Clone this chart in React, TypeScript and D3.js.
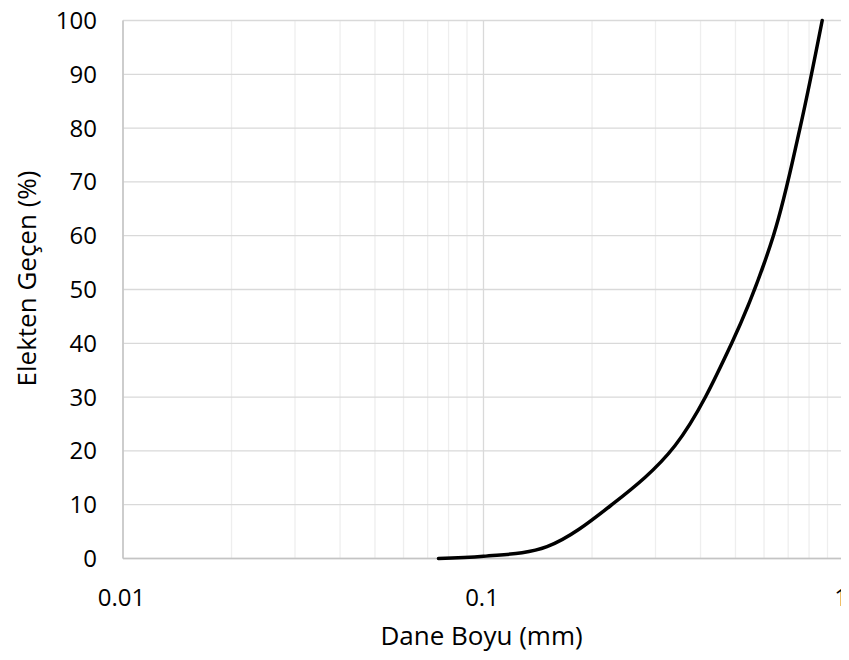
import React, { useEffect, useRef } from "react";
import * as d3 from "d3";

// grain size (mm) and percent passing
const grainSize = [0.075, 0.1, 0.15, 0.227, 0.34, 0.488, 0.637, 0.755, 0.87];
const passing = [0, 0.4, 2.2, 10, 21, 40, 60, 80, 100];
const xTicks = [0.01, 0.1, 1];
const xTickLabels = ["0.01", "0.1", "1"];
const yTicks = [0, 10, 20, 30, 40, 50, 60, 70, 80, 90, 100];

const width = 849;
const height = 660;
const font = "'Segoe UI', 'Open Sans', sans-serif";

const GradationChart = () => {
    const svgRef = useRef<SVGSVGElement>(null);

    useEffect(() => {
        const svg = d3.select(svgRef.current);
        svg.selectAll("*").remove();

        const margin = { top: 20.5, right: 5, bottom: 101.5, left: 123 };
        const x = d3.scaleLog().domain([0.01, 1]).range([margin.left, width - margin.right]);
        const y = d3.scaleLinear().domain([0, 100]).range([height - margin.bottom, margin.top]);

        // minor vertical gridlines (2..9 per decade)
        const minor: number[] = [];
        [0.01, 0.1].forEach((d) => {
            for (let k = 2; k <= 9; k++) minor.push(d * k);
        });
        svg.append("g")
            .selectAll("line")
            .data(minor)
            .enter()
            .append("line")
            .attr("x1", (d) => x(d))
            .attr("x2", (d) => x(d))
            .attr("y1", y(0))
            .attr("y2", y(100))
            .attr("stroke", "#eeeeee")
            .attr("stroke-width", 1.3);

        // major vertical gridlines
        svg.append("g")
            .selectAll("line")
            .data(xTicks)
            .enter()
            .append("line")
            .attr("x1", (d) => x(d))
            .attr("x2", (d) => x(d))
            .attr("y1", y(0))
            .attr("y2", y(100))
            .attr("stroke", "#d9d9d9")
            .attr("stroke-width", 1.3);

        // horizontal gridlines
        svg.append("g")
            .selectAll("line")
            .data(yTicks)
            .enter()
            .append("line")
            .attr("x1", x(0.01))
            .attr("x2", x(1))
            .attr("y1", (d) => y(d))
            .attr("y2", (d) => y(d))
            .attr("stroke", "#d9d9d9")
            .attr("stroke-width", 1.3);

        // axis lines
        svg.append("line")
            .attr("x1", x(0.01)).attr("x2", x(0.01))
            .attr("y1", y(0)).attr("y2", y(100))
            .attr("stroke", "#c4c4c4").attr("stroke-width", 1.5);
        svg.append("line")
            .attr("x1", x(0.01)).attr("x2", x(1))
            .attr("y1", y(0)).attr("y2", y(0))
            .attr("stroke", "#c4c4c4").attr("stroke-width", 1.5);

        // y tick labels
        svg.append("g")
            .selectAll("text")
            .data(yTicks)
            .enter()
            .append("text")
            .attr("x", 97)
            .attr("y", (d) => y(d))
            .attr("dy", "0.35em")
            .attr("text-anchor", "end")
            .style("font-family", font)
            .style("font-size", "24px")
            .style("fill", "#000")
            .text((d) => d);

        // x tick labels (keep the last one inside the picture)
        svg.append("g")
            .selectAll("text")
            .data(xTicks)
            .enter()
            .append("text")
            .attr("x", (d) => Math.min(x(d) - 1.5, width - 8))
            .attr("y", 606)
            .attr("text-anchor", "middle")
            .style("font-family", font)
            .style("font-size", "24px")
            .style("fill", "#000")
            .text((d, i) => xTickLabels[i]);

        // axis titles
        svg.append("text")
            .attr("x", (x(0.01) + x(1)) / 2 - 2)
            .attr("y", 645)
            .attr("text-anchor", "middle")
            .style("font-family", font)
            .style("font-size", "26px")
            .style("fill", "#000")
            .text("Dane Boyu (mm)");
        svg.append("text")
            .attr("transform", `translate(36, ${(y(0) + y(100)) / 2 - 11}) rotate(-90)`)
            .attr("text-anchor", "middle")
            .style("font-family", font)
            .style("font-size", "26px")
            .style("fill", "#000")
            .text("Elekten Geçen (%)");

        // gradation curve
        const line = d3
            .line<number>()
            .x((d, i) => x(grainSize[i]))
            .y((d) => y(d))
            .curve(d3.curveCatmullRom.alpha(0.5));
        svg.append("path")
            .datum(passing)
            .attr("d", line)
            .attr("fill", "none")
            .attr("stroke", "#000")
            .attr("stroke-width", 3.5)
            .attr("stroke-linecap", "round");
    }, []);

    return <svg ref={svgRef} width={width} height={height} style={{ display: "block" }}></svg>;
};

export default function App() {
    return (
        <div style={{ margin: -8, background: "#fff" }}>
            <GradationChart />
        </div>
    );
}
